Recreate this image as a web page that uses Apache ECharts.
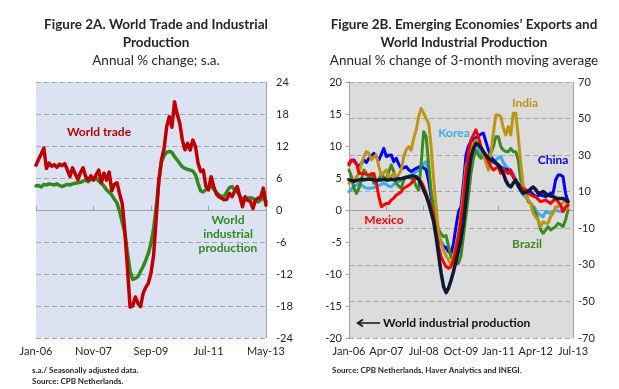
<!DOCTYPE html>
<html><head><meta charset="utf-8">
<script src="https://cdn.jsdelivr.net/npm/echarts@6/dist/echarts.min.js"></script>
<style>html,body{margin:0;padding:0;background:#fff}#c{width:619px;height:389px}</style>
</head><body><div id="c"></div>
<script>
// ---------- DATA ----------
function monthLabels(startYear, count) {
  const m = ['Jan','Feb','Mar','Apr','May','Jun','Jul','Aug','Sep','Oct','Nov','Dec'];
  const out = [];
  for (let i = 0; i < count; i++) {
    const y = startYear + Math.floor(i / 12);
    out.push(m[i % 12] + '-' + String(y % 100).padStart(2, '0'));
  }
  return out;
}
const monthsA = monthLabels(2006, 89);   // Jan-06 .. May-13
const monthsB = monthLabels(2006, 91);   // Jan-06 .. Jul-13
const ticksA = ['Jan-06','Nov-07','Sep-09','Jul-11','May-13'];
const ticksB = ['Jan-06','Apr-07','Jul-08','Oct-09','Jan-11','Apr-12','Jul-13'];

// Figure 2A (annual % change, s.a.)
const worldTrade = [8.4,9.5,10.5,11.6,7.8,8.8,8.2,8.5,8.0,8.6,8.3,8.7,7.5,6.3,7.9,6.8,5.7,7.0,7.9,6.3,
  5.6,6.4,5.6,6.6,7.5,5.1,6.9,5.6,7.1,3.6,4.8,5.1,3.0,1.2,-4.0,-11.0,-18.2,-18.0,-16.3,-17.5,
  -18.1,-15.6,-14.5,-13.7,-11.8,-8.5,-1.5,5.5,9.4,11.5,15.6,17.5,15.5,20.3,18.0,16.3,13.1,11.3,12.5,11.25,
  13.1,11.9,8.8,7.2,7.5,4.4,3.75,6.25,4.4,3.0,2.5,2.2,1.9,2.0,3.1,2.5,3.5,4.4,2.5,0.6,
  2.5,1.8,1.6,0.3,1.9,2.2,2.5,4.1,0.9];
const worldIPA = [4.5,4.6,4.3,4.8,4.7,4.9,4.8,4.7,4.9,4.6,4.4,4.6,4.8,4.7,4.9,5.0,5.1,5.2,5.4,5.6,
  5.3,5.8,5.7,6.0,5.4,5.0,4.5,3.75,3.3,2.8,2.0,1.3,-0.3,-2.3,-4.4,-8.0,-11.5,-13.0,-12.8,-12.5,
  -11.5,-10.6,-9.4,-8.1,-6.2,-3.5,0.5,5.5,9.0,10.2,10.8,11.0,10.8,10.0,9.4,8.7,8.1,7.8,7.6,7.5,
  7.3,6.6,5.0,3.6,3.4,3.8,4.2,4.6,3.9,3.3,2.8,2.6,2.6,3.4,4.2,4.4,3.8,3.4,2.6,1.9,
  2.0,2.2,2.3,2.2,1.7,1.5,1.9,2.2,1.6];

// Figure 2B (annual % change of 3-month moving average)
const worldIPB = [4.7,4.6,4.5,4.6,4.7,4.8,4.7,4.8,4.8,4.8,4.7,4.6,4.7,4.7,4.8,4.7,4.7,4.8,4.7,4.8,
  4.9,4.9,5.0,5.1,5.2,5.3,5.3,5.2,4.8,4.0,3.1,2.2,1.1,-0.3,-1.8,-4.2,-7.0,-9.8,-12.0,-12.9,
  -12.2,-11.0,-9.6,-8.0,-6.3,-4.5,-2.0,1.5,5.5,8.3,9.6,10.4,10.2,9.7,9.1,8.6,8.1,7.8,7.6,7.3,
  7.0,6.4,5.7,4.6,3.9,3.6,4.2,4.7,3.8,3.1,2.6,2.8,2.9,3.3,3.6,3.2,2.6,2.7,2.9,2.6,
  2.3,2.2,2.1,1.9,1.8,1.8,1.8,1.6,1.3];
const china = [25.5,27.0,27.4,25.0,23.7,25.5,27.4,26.0,28.3,29.5,31.0,29.0,27.4,30.5,33.7,29.2,30.0,30.1,26.4,28.3,
  25.0,22.8,23.0,23.7,22.0,21.0,22.0,22.8,23.5,23.7,23.0,21.9,16.0,7.3,-2.0,-9.1,-15.0,-18.2,-20.0,-20.5,
  -22.8,-23.7,-18.2,-9.1,-1.0,1.8,15.0,30.0,35.0,37.4,38.5,39.5,40.5,41.5,42.0,37.4,33.0,29.2,27.4,26.0,
  24.6,23.5,22.8,22.3,21.9,20.0,18.2,15.5,14.6,12.7,11.8,10.9,10.5,10.0,8.5,7.3,7.8,8.2,7.8,7.3,
  8.2,9.1,9.1,16.4,19.1,19.1,18.2,9.1,4.5];
const india = [14.6,15.5,16.4,18.0,20.0,25.5,29.0,31.9,31.0,27.4,29.0,30.1,23.7,19.1,20.5,21.9,17.3,18.5,20.0,17.3,
  19.5,21.9,29.2,33.0,34.6,32.8,39.2,43.8,51.0,55.6,53.0,50.0,47.4,34.6,16.4,2.0,-12.7,-18.0,-21.9,-25.0,
  -27.4,-30.0,-25.5,-19.0,-12.7,-1.8,10.0,24.0,29.2,33.0,36.5,38.3,36.0,34.6,31.0,26.0,21.9,31.0,42.0,52.0,
  52.0,51.0,44.7,41.0,45.6,41.0,52.9,52.9,40.1,25.5,12.7,8.0,5.5,3.6,-1.8,-4.0,-5.5,-9.1,-6.4,-7.3,
  -7.3,-3.6,-1.8,1.8,1.8,2.7,4.0,5.5,0.9];
const brazil = [21.9,18.2,12.0,9.1,12.0,16.4,21.9,20.0,18.2,20.0,14.6,15.5,16.4,20.0,18.0,16.4,21.0,24.6,21.0,14.6,
  13.0,11.9,16.4,18.2,17.8,17.3,16.4,13.0,10.9,25.5,42.8,40.1,25.0,10.0,1.0,-6.0,-10.9,-13.0,-14.6,-14.0,
  -20.0,-26.0,-27.4,-29.0,-29.2,-25.0,-14.0,-3.0,8.0,20.0,28.3,32.8,30.0,28.3,31.0,30.0,29.2,31.0,34.6,40.1,
  40.1,34.6,32.8,32.0,31.9,33.7,31.9,31.9,27.4,16.4,13.0,10.9,4.5,3.6,0.9,-2.0,-5.5,-10.9,-12.7,-11.0,
  -9.1,-10.9,-10.0,-9.1,-7.3,-8.0,-9.1,-5.5,0.0];
const korea = [10.0,11.5,12.7,13.5,14.6,13.5,12.7,12.0,11.9,11.9,12.3,12.7,13.5,14.0,14.6,14.0,13.0,12.7,14.0,15.0,
  15.5,16.4,17.3,18.0,18.5,19.1,20.0,21.0,21.9,23.5,25.5,26.4,18.0,8.0,-2.0,-9.1,-14.0,-17.0,-19.5,-21.0,
  -21.9,-22.8,-21.5,-20.0,-12.7,-5.0,5.0,20.0,34.6,36.5,38.3,36.5,33.0,30.1,28.5,27.4,26.5,25.5,26.5,27.4,
  28.5,29.2,26.0,24.0,22.8,21.5,20.0,16.0,12.7,10.5,8.2,7.0,5.5,3.5,1.8,0.0,-1.8,-3.0,-3.6,-0.9,
  -1.5,-1.8,-0.9,0.0,-0.5,-0.9,0.5,1.8,2.7];
const mexico = [24.6,27.4,26.5,25.5,20.0,20.0,20.0,19.5,19.1,19.5,20.0,14.6,7.3,1.8,2.7,3.6,3.6,5.5,6.5,8.2,
  9.0,10.0,11.9,12.7,13.5,14.6,16.4,17.3,17.0,15.5,12.7,9.1,5.0,1.8,-4.0,-12.0,-20.0,-25.5,-28.5,-31.0,
  -31.9,-31.0,-27.4,-21.0,-14.6,-5.0,5.0,20.0,32.0,38.3,41.0,43.8,40.0,34.6,32.0,29.2,26.5,23.7,21.9,22.8,
  23.7,20.0,22.8,21.0,20.0,21.9,18.2,15.5,13.0,12.7,11.5,10.9,9.5,8.2,7.5,7.3,5.8,4.5,5.0,5.5,
  4.5,3.6,5.0,6.4,4.5,2.7,-0.9,1.5,2.7];

// ---------- CHART ----------
const FONT = 'Lato, "Open Sans", sans-serif';
const txt = '#262626';
const dash = {color:'#a6a6a6', type:[5,3], width:1};
const chart = echarts.init(document.getElementById('c'), null, {renderer:'canvas'});

function lineSeries(name, data, color, xi, yi, w) {
  return {name, type:'line', data, xAxisIndex:xi, yAxisIndex:yi, symbol:'none', smooth:false,
    lineStyle:{color, width:w||3, join:'round', cap:'round'}, itemStyle:{color}, animation:false, z:3};
}
function tickFmt(list) { return v => (list.indexOf(v) >= 0 ? v : ''); }

function label(text, x, y, color, size, weight, align) {
  return {type:'text', x, y, style:{text, fill:color, font:(weight||'bold')+' '+size+'px '+FONT,
    textAlign:align||'center', textVerticalAlign:'middle'}, z:10};
}

const option = {
  animation:false,
  backgroundColor:'#ffffff',
  grid:[
    {left:36, top:82, width:230, height:256, show:true, backgroundColor:'#dbe3f3', borderWidth:0},
    {left:349, top:82, width:224, height:256, show:true, backgroundColor:'#dcdcdc', borderWidth:0}
  ],
  xAxis:[
    {type:'category', gridIndex:0, data:monthsA, boundaryGap:false, position:'bottom',
      axisLine:{show:false, onZero:false}, axisTick:{show:false}, splitLine:{show:false},
      axisLabel:{interval:21, color:txt, fontSize:11, fontFamily:FONT, margin:8, formatter:tickFmt(ticksA), showMaxLabel:true}},
    {type:'category', gridIndex:0, data:monthsA, boundaryGap:false,
      axisLine:{show:true, onZero:true, onZeroAxisIndex:0, lineStyle:{color:'#a0a0a0', width:1}},
      axisTick:{show:true, interval:21, length:4, lineStyle:{color:'#a0a0a0'}}, axisLabel:{show:false}, splitLine:{show:false}},
    {type:'category', gridIndex:1, data:monthsB, boundaryGap:false, position:'bottom',
      axisLine:{show:false, onZero:false}, axisTick:{show:false}, splitLine:{show:false},
      axisLabel:{interval:14, color:txt, fontSize:11, fontFamily:FONT, margin:8, formatter:tickFmt(ticksB), showMaxLabel:true}},
    {type:'category', gridIndex:1, data:monthsB, boundaryGap:false,
      axisLine:{show:true, onZero:true, onZeroAxisIndex:1, lineStyle:{color:'#a0a0a0', width:1}},
      axisTick:{show:true, interval:14, length:4, lineStyle:{color:'#a0a0a0'}}, axisLabel:{show:false}, splitLine:{show:false}}
  ],
  yAxis:[
    {type:'value', gridIndex:0, position:'right', min:-24, max:24, interval:6,
      axisLine:{show:true, lineStyle:{color:'#a0a0a0'}}, axisTick:{show:false},
      splitLine:{show:true, lineStyle:dash},
      axisLabel:{color:txt, fontSize:11, fontFamily:FONT, margin:10}},
    {type:'value', gridIndex:1, position:'left', min:-20, max:20, interval:5,
      axisLine:{show:true, lineStyle:{color:'#a0a0a0'}}, axisTick:{show:true, length:3, lineStyle:{color:'#a0a0a0'}},
      splitLine:{show:false},
      axisLabel:{color:txt, fontSize:11, fontFamily:FONT, margin:7}},
    {type:'value', gridIndex:1, position:'right', min:-70, max:70, interval:20,
      axisLine:{show:true, lineStyle:{color:'#a0a0a0'}}, axisTick:{show:false},
      splitLine:{show:true, lineStyle:dash},
      axisLabel:{color:txt, fontSize:11, fontFamily:FONT, margin:5}}
  ],
  series:[
    lineSeries('World industrial production', worldIPA, '#2e8b1a', 0, 0, 3.5),
    lineSeries('World trade', worldTrade, '#c00000', 0, 0, 3.5),
    lineSeries('Korea', korea, '#3aaaf0', 2, 2, 3),
    lineSeries('China', china, '#0000ff', 2, 2, 3),
    lineSeries('Brazil', brazil, '#3a8a1e', 2, 2, 3),
    lineSeries('India', india, '#bf9410', 2, 2, 3),
    lineSeries('Mexico', mexico, '#ff0000', 2, 2, 3),
    lineSeries('World industrial production (2B)', worldIPB, '#0d1a33', 2, 1, 3.5)
  ],
  graphic:[
    label('Figure 2A. World Trade and Industrial', 156, 25, txt, 13.5, 'bold'),
    label('Production', 156, 43, txt, 13.5, 'bold'),
    label('Annual % change; s.a.', 156, 61, txt, 13.5, 'normal'),
    label('Figure 2B. Emerging Economies\u2019 Exports and', 464, 25, txt, 13.5, 'bold'),
    label('World Industrial Production', 464, 43, txt, 13.5, 'bold'),
    label('Annual % change of 3-month moving average', 464, 61, txt, 13.5, 'normal'),
    label('World trade', 99, 132, '#c00000', 12, 'bold'),
    label('World', 228, 220, '#2e8b1a', 12, 'bold'),
    label('industrial', 228, 234, '#2e8b1a', 12, 'bold'),
    label('production', 228, 248, '#2e8b1a', 12, 'bold'),
    label('India', 525, 103, '#bf9410', 12, 'bold'),
    label('Korea', 454, 133, '#3aaaf0', 12, 'bold'),
    label('China', 553, 160, '#0000ff', 12, 'bold'),
    label('Mexico', 384, 220, '#ff0000', 12, 'bold'),
    label('Brazil', 527, 244, '#3a8a1e', 12, 'bold'),
    label('World industrial production', 383, 323, '#111111', 12, 'bold', 'left'),
    {type:'line', shape:{x1:358, y1:323, x2:380, y2:323}, style:{stroke:'#111', lineWidth:1.5}, z:10},
    {type:'polyline', shape:{points:[[363,319.5],[357.5,323],[363,326.5]]}, style:{stroke:'#111', lineWidth:1.5, fill:null}, z:10},
    label('s.a./ Seasonally adjusted data.', 32, 370, txt, 8, 'bold', 'left'),
    label('Source: CPB Netherlands.', 32, 381, txt, 8, 'bold', 'left'),
    label('Source: CPB Netherlands, Haver Analytics and INEGI.', 332, 370, txt, 8, 'bold', 'left')
  ]
};
chart.setOption(option);
</script>
</body></html>
